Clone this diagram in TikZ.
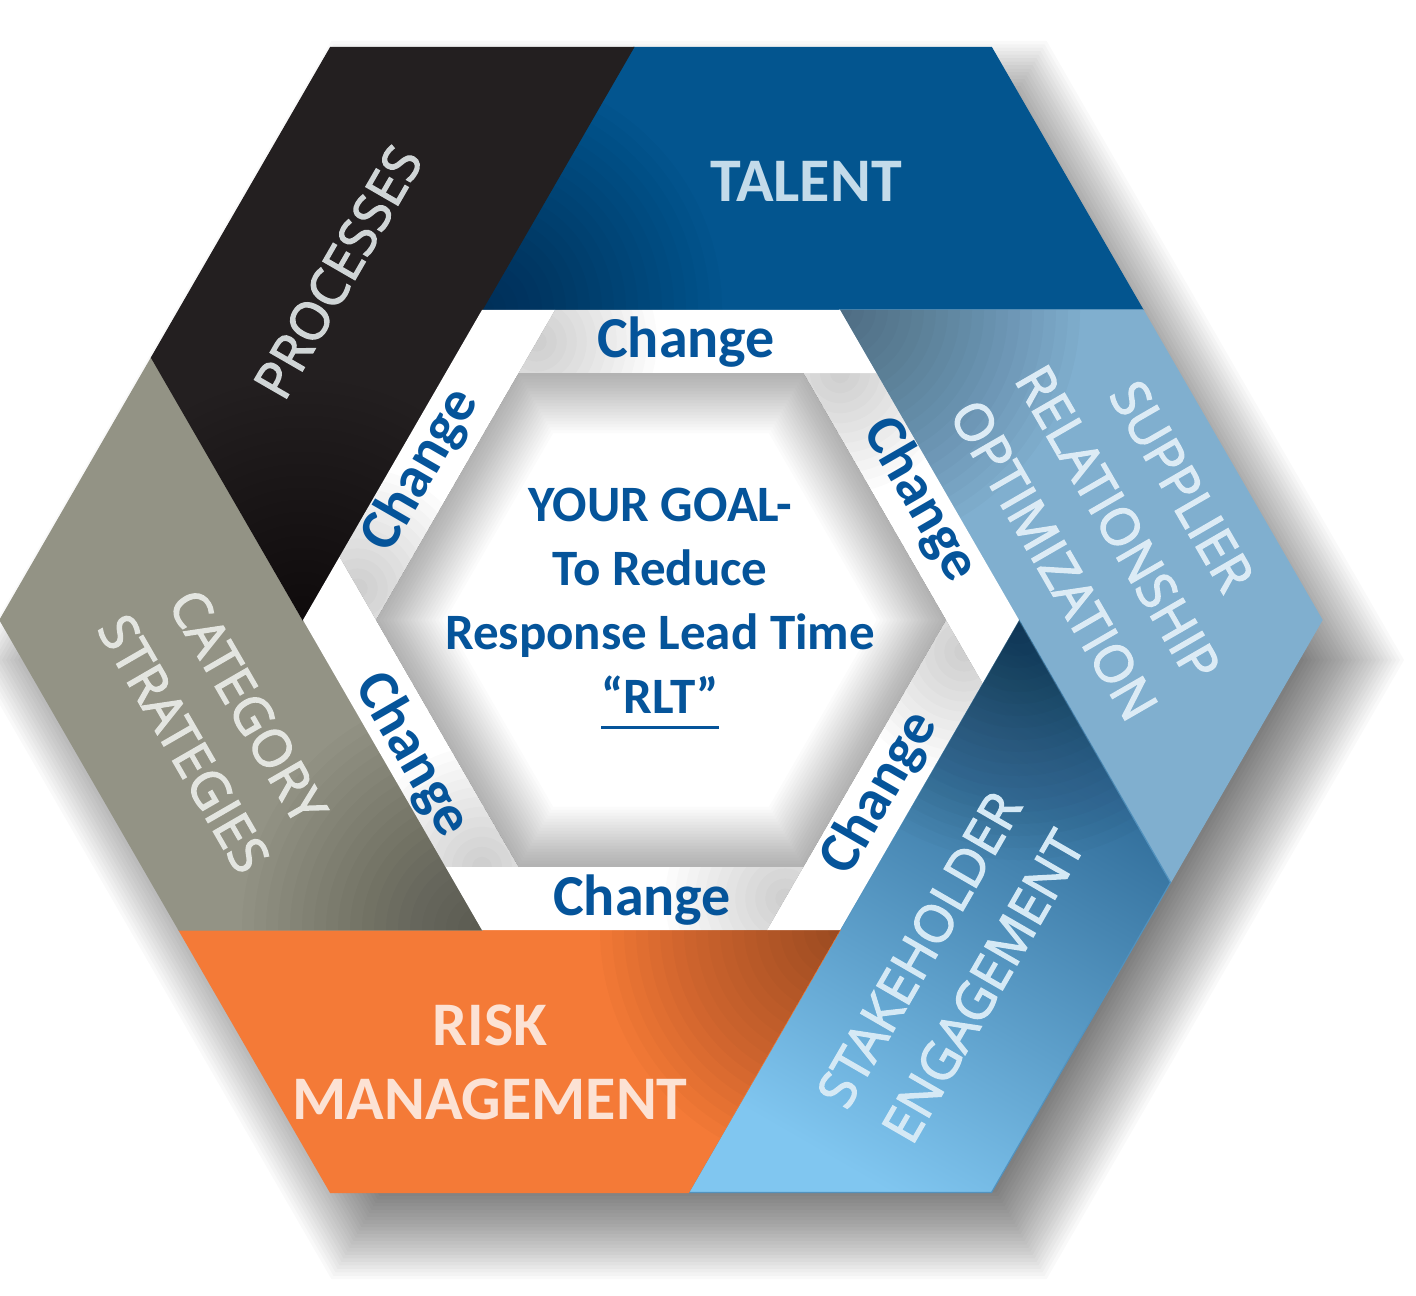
\documentclass[tikz,border=0pt]{standalone}
\usepackage{fontspec}
\setmainfont{Carlito}
\newfontfamily\capsfont{Open Sans}[FakeBold=2.5]
\usetikzlibrary{calc}
\definecolor{procblack}{HTML}{231F20}
\definecolor{talentblue}{HTML}{03558F}
\definecolor{supplierblue}{HTML}{80AFCF}
\definecolor{stakedark}{HTML}{245F8C}
\definecolor{stakelight}{HTML}{80C6F0}
\definecolor{riskorange}{HTML}{F47A37}
\definecolor{categorygray}{HTML}{939385}
\definecolor{changeblue}{HTML}{05549A}
\definecolor{proctext}{HTML}{D0D5D6}
\definecolor{talenttext}{HTML}{C3DBEA}
\definecolor{suppliertext}{HTML}{DCEBF5}
\definecolor{staketext}{HTML}{D5E9F5}
\definecolor{risktext}{HTML}{FCE2D4}
\definecolor{categorytext}{HTML}{E3E5E0}
\newcommand\goalline[1]{\setbox0\hbox{#1}\rlap{\rule[-7.5pt]{\wd0}{1.6pt}}\box0}

\begin{document}
\begin{tikzpicture}[x=0.5pt,y=-0.5pt,
    region/.style={font=\capsfont\fontsize{26}{37}\selectfont, align=center},
    boldlabel/.style={font=\bfseries\fontsize{31}{37}\selectfont, align=center},
    changetext/.style={font=\bfseries\fontsize{29}{34}\selectfont, text=changeblue},
    goal/.style={font=\bfseries\fontsize{25.5}{32}\selectfont, text=changeblue, align=center, inner sep=0pt}]
    \def\R{661}
    \def\Ri{358}
    \def\Rii{285}
    \def\outfrac{0.4584} % (R-Ri)/R
    \def\bandfrac{0.2039} % (Ri-Rii)/Ri
    \fill[white] (0,0) rectangle (1416,1295);
    \useasboundingbox (0,0) rectangle (1416,1295);
    \coordinate (c) at (661,620);
    \coordinate (sc) at (689,660);
    \foreach \a in {0,60,...,300}{
        \coordinate (o\a) at ($(c)+(\a:\R)$);
        \coordinate (i\a) at ($(c)+(\a:\Ri)$);
        \coordinate (j\a) at ($(c)+(\a:\Rii)$);
    }
    % drop shadow
    \foreach \r in {611,615,...,715}
        \fill[black, fill opacity=.024]
            ($(sc)+(0:\r)$) -- ($(sc)+(60:\r)$) -- ($(sc)+(120:\r)$) -- ($(sc)+(180:\r)$) -- ($(sc)+(240:\r)$) -- ($(sc)+(300:\r)$) -- cycle;
    % outer pinwheel
    \foreach \a/\cola/\colb in {300/talentblue/talentblue, 0/supplierblue/supplierblue, 60/stakedark/stakelight,
        120/riskorange/riskorange, 180/categorygray/categorygray, 240/procblack/procblack}{
        \pgfmathtruncatemacro\p{mod(\a+300,360)}
        \pgfmathtruncatemacro\n{mod(\a+60,360)}
        \shade[top color=\cola, bottom color=\colb, shading angle=-30, draw=\colb!50!\cola, line width=0.6]
            (i\p) -- ($(o\p)!\outfrac!(o\a)$) -- (o\a) -- ($(o\a)!\outfrac!(o\n)$) -- cycle;
        \begin{scope}
            \clip (i\p) -- ($(o\p)!\outfrac!(o\a)$) -- (o\a) -- ($(o\a)!\outfrac!(o\n)$) -- cycle;
            \foreach \r in {12,24,...,240}
                \fill[black, fill opacity=.02] (i\p) circle (\r);
        \end{scope}
    }
    % white bands
    \foreach \a in {0,60,...,300}{
        \pgfmathtruncatemacro\p{mod(\a+300,360)}
        \pgfmathtruncatemacro\n{mod(\a+60,360)}
        \coordinate (bs\a) at ($(i\p)!\bandfrac!(i\a)$);
        \fill[white] (j\p) -- (bs\a) -- (i\a) -- ($(i\a)!\bandfrac!(i\n)$) -- cycle;
        \begin{scope}
            \clip (j\p) -- (bs\a) -- (i\a) -- ($(i\a)!\bandfrac!(i\n)$) -- cycle;
            \foreach \r in {10,20,...,120}
                \fill[black, fill opacity=.016] ($(j\p)!.5!(bs\a)$) circle (\r);
        \end{scope}
    }
    % hub with inner shadow
    \fill[white] (j0) -- (j60) -- (j120) -- (j180) -- (j240) -- (j300) -- cycle;
    \begin{scope}
        \clip (j0) -- (j60) -- (j120) -- (j180) -- (j240) -- (j300) -- cycle;
        \foreach \w in {3,6,...,60}
            \draw[black, draw opacity=.016, line width=\w] (j0) -- (j60) -- (j120) -- (j180) -- (j240) -- (j300) -- cycle;
    \end{scope}

    \node[region, text=proctext, rotate=60] (processes) at (338,272) {PROCESSES};
    \node[boldlabel, text=talenttext] (talent) at (806,181) {TALENT};
    \node[region, text=suppliertext, rotate=-60] (supplier) at (1118,523) {SUPPLIER\\RELATIONSHIP\\OPTIMIZATION};
    \node[region, text=staketext, rotate=60] (stakeholder) at (951,968) {STAKEHOLDER\\ENGAGEMENT};
    \node[boldlabel, text=risktext] (risk) at (490,1062) {RISK\\MANAGEMENT};
    \node[region, text=categorytext, rotate=-60] (category) at (216,725) {CATEGORY\\STRATEGIES};

    \foreach \pos/\ang/\nm in {{(686,342)}/0/top, {(920,500)}/-60/ur, {(880,793)}/60/lr,
        {(642,900)}/0/bot, {(412,755)}/-60/ll, {(421,470)}/60/ul}
        \node[changetext, rotate=\ang] (ch-\nm) at \pos {Change};

    \node[goal, anchor=north] (goal) at (660,488) {YOUR GOAL-\\To Reduce\\Response Lead Time\\\goalline{“RLT”}};
\end{tikzpicture}
\end{document}
